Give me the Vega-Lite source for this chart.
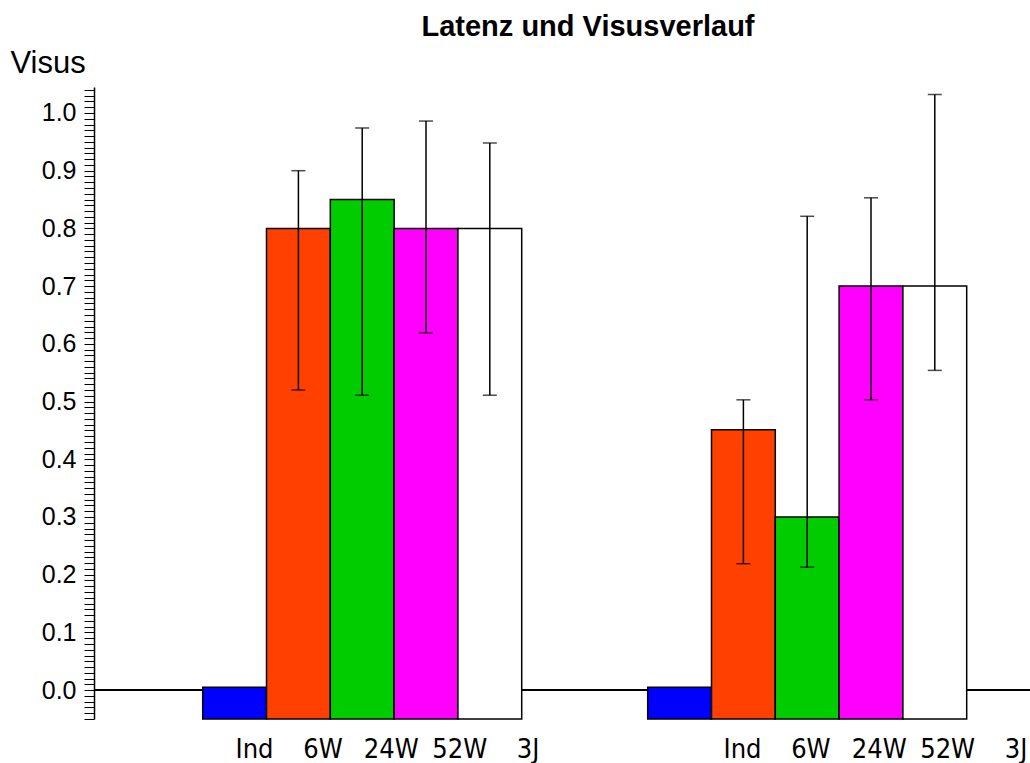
{
  "$schema": "https://vega.github.io/schema/vega-lite/v6.json",
  "width": 936,
  "height": 632,
  "autosize": {"type": "none"},
  "padding": {"left": 94, "top": 87, "right": 0, "bottom": 44},
  "background": "white",
  "config": {"view": {"stroke": null}, "font": "Liberation Sans"},
  "title": {
    "text": "Latenz und Visusverlauf",
    "font": "Liberation Sans",
    "fontSize": 29,
    "fontWeight": "bold",
    "color": "black",
    "anchor": "middle",
    "frame": "group",
    "dx": 26,
    "offset": 5
  },
  "data": {
    "values": [
      {"grp": "A", "cat": "Ind", "value": 0.005, "lo": null, "hi": null},
      {"grp": "A", "cat": "6W", "value": 0.8, "lo": 0.52, "hi": 0.9},
      {"grp": "A", "cat": "24W", "value": 0.85, "lo": 0.511, "hi": 0.974},
      {"grp": "A", "cat": "52W", "value": 0.8, "lo": 0.619, "hi": 0.986},
      {"grp": "A", "cat": "3J", "value": 0.8, "lo": 0.511, "hi": 0.948},
      {"grp": "B", "cat": "Ind", "value": 0.005, "lo": null, "hi": null},
      {"grp": "B", "cat": "6W", "value": 0.451, "lo": 0.219, "hi": 0.503},
      {"grp": "B", "cat": "24W", "value": 0.3, "lo": 0.213, "hi": 0.821},
      {"grp": "B", "cat": "52W", "value": 0.7, "lo": 0.503, "hi": 0.853},
      {"grp": "B", "cat": "3J", "value": 0.7, "lo": 0.554, "hi": 1.032}
    ]
  },
  "layer": [
    {
      "layer": [
        {
          "mark": {"type": "rule", "color": "black", "strokeWidth": 1.2},
          "encoding": {"y": {"datum": 0, "type": "quantitative"}}
        },
        {
          "mark": {"type": "bar", "stroke": "black", "strokeWidth": 1.5},
          "encoding": {
            "x": {"field": "grp", "type": "nominal", "axis": null,
                  "scale": {"range": [108.7, 872.7], "paddingInner": 0.2831, "paddingOuter": 0}},
            "xOffset": {"field": "cat", "type": "nominal", "sort": ["Ind", "6W", "24W", "52W", "3J"],
                        "scale": {"paddingInner": 0, "paddingOuter": 0}},
            "y": {
              "field": "value", "type": "quantitative",
              "scale": {"domain": [-0.05, 1.045], "nice": false, "zero": false},
              "axis": {
                "title": "Visus",
                "titleAngle": 0,
                "titleAlign": "left",
                "titleBaseline": "alphabetic",
                "titleX": -84,
                "titleY": -15,
                "titleFont": "Liberation Sans",
                "titleFontSize": 31,
                "titleFontWeight": "normal",
                "titleColor": "black",
                "tickCount": 110,
                "labelExpr": "abs(datum.value*10 - round(datum.value*10)) < 0.001 ? format(datum.value, '.1f') : ''",
                "labelOverlap": false,
                "labelFont": "Liberation Sans",
                "labelFontSize": 25,
                "labelColor": "black",
                "labelPadding": 8,
                "labelBaseline": "middle",
                "tickSize": 10,
                "tickWidth": 1,
                "tickColor": "black",
                "domainColor": "black",
                "domainWidth": 1.5,
                "grid": false,
                "encode": {
                  "ticks": {"update": {"x2": {"signal": "abs(datum.value*10 - round(datum.value*10)) < 0.001 ? -10 : -5"}}}
                }
              }
            },
            "y2": {"datum": -0.05},
            "color": {
              "field": "cat", "type": "nominal", "legend": null,
              "scale": {"domain": ["Ind", "6W", "24W", "52W", "3J"],
                        "range": ["#0000FF", "#FF4000", "#00CC00", "#FF00FF", "#FFFFFF"]}
            }
          }
        },
        {
          "mark": {"type": "rule", "color": "black", "strokeWidth": 1.5},
          "encoding": {
            "x": {"field": "grp", "type": "nominal"},
            "xOffset": {"field": "cat", "type": "nominal", "sort": ["Ind", "6W", "24W", "52W", "3J"]},
            "y": {"field": "lo", "type": "quantitative"},
            "y2": {"field": "hi"}
          }
        },
        {
          "mark": {"type": "tick", "color": "black", "size": 14, "thickness": 1.5},
          "encoding": {
            "x": {"field": "grp", "type": "nominal"},
            "xOffset": {"field": "cat", "type": "nominal", "sort": ["Ind", "6W", "24W", "52W", "3J"]},
            "y": {"field": "lo", "type": "quantitative"}
          }
        },
        {
          "mark": {"type": "tick", "color": "black", "size": 14, "thickness": 1.5},
          "encoding": {
            "x": {"field": "grp", "type": "nominal"},
            "xOffset": {"field": "cat", "type": "nominal", "sort": ["Ind", "6W", "24W", "52W", "3J"]},
            "y": {"field": "hi", "type": "quantitative"}
          }
        }
      ]
    },
    {
      "mark": {"type": "text", "font": "DejaVu Sans Condensed, Liberation Sans", "fontSize": 27, "color": "black",
               "baseline": "alphabetic", "align": "center", "dy": 39},
      "encoding": {
        "x": {"field": "grp", "type": "nominal", "axis": null,
              "scale": {"range": [126.3, 956.3], "paddingInner": 0.299, "paddingOuter": 0}},
        "xOffset": {"field": "cat", "type": "nominal", "sort": ["Ind", "6W", "24W", "52W", "3J"],
                    "scale": {"padding": 0.5}},
        "y": {"datum": -0.05, "type": "quantitative"},
        "text": {"field": "cat"}
      }
    }
  ],
  "resolve": {"scale": {"x": "independent", "xOffset": "independent"}}
}
